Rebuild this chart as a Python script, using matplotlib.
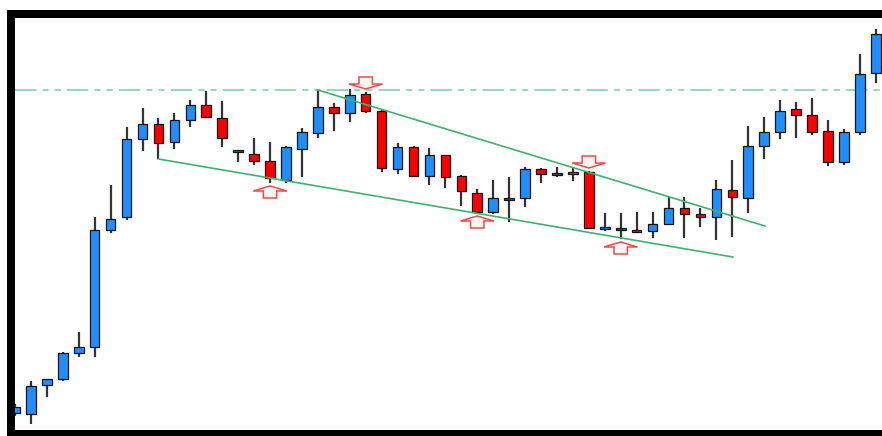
import matplotlib
matplotlib.use("Agg")
import matplotlib.pyplot as plt
from matplotlib.patches import Rectangle, Polygon
import numpy as np

# ---- data (price units) ----
opens = [27, 26, 55, 61, 87, 93, 210, 223, 301, 316, 298, 320, 335, 322, 290, 286, 279, 260, 291, 307,
         333, 327, 346, 329, 271, 293, 264, 285, 264, 247, 228, 242, 242, 271, 266, 266, 268, 211.5, 212,
         209, 209, 216, 232, 226, 223, 250, 242, 294, 308, 331, 325, 309, 278, 308, 367]
closes = [33, 54, 61, 87, 93, 210, 221, 301, 316, 297, 320, 335, 323, 302, 288.5, 279, 262, 293, 308, 333,
          327, 345, 329, 272, 293, 264, 285, 263, 249, 228, 242, 241, 271, 266, 266, 268, 212, 213, 210,
          209, 216, 232, 226, 223, 251, 243, 294, 308, 329, 325, 308, 278, 308, 366, 406]
highs = [36, 59, 61, 88, 108, 223, 255, 313, 332, 322, 327, 340, 349, 339, 290, 302, 298, 294, 312, 350,
         337, 351, 348, 330, 297, 294, 292, 285, 265, 251, 260, 263, 273, 272, 273, 272, 269, 227, 227,
         228, 228, 243, 243, 232, 260, 280, 314, 323, 340, 338, 342, 320, 311, 386, 411]
lows = [24, 16, 43, 59, 83, 83, 207, 220, 289, 281, 291, 313, 323, 293, 278, 275, 257, 257, 263, 302,
        309, 318, 327, 268, 266, 264, 255, 252, 234, 227, 226, 218, 233, 257, 263, 259, 212, 209, 201,
        208, 202, 216, 202, 213, 200, 203, 227, 281, 301, 302, 305, 274, 275, 305, 357]

resistance_level = 350
upper_line_x = [19, 47.05]
upper_line_y = [350, 214]
lower_line_x = [9, 45.04]
lower_line_y = [281, 183]
up_arrow_idx = [16, 29, 38]
down_arrow_idx = [22, 36]

W, H = 882, 436
fig = plt.figure(figsize=(W / 100, H / 100), dpi=100)
fig.patch.set_facecolor("white")
ax = fig.add_axes([15 / W, 6 / H, (W - 15) / W, 412 / H])
ax.set_xlim(0, (W - 15) / 15.94)
ax.set_ylim(10, 422)
ax.axis("off")

x = np.arange(len(opens))
o = np.array(opens, float)
c = np.array(closes, float)
hi = np.array(highs, float)
lo = np.array(lows, float)

colors = []
for oo, cc in zip(o, c):
    if cc > oo:
        colors.append("#1e8fff")
    elif cc < oo:
        colors.append("#ff0000")
    else:
        colors.append("#555555")

# dashed resistance line
ax.axhline(resistance_level, color="#6fd3a0", lw=1.1, dashes=(14, 4, 4, 4, 4, 4), zorder=1)

# wicks
ax.vlines(x, lo, hi, color="#333333", lw=1.6, zorder=2)
# bodies
bottoms = np.minimum(o, c)
heights = np.maximum(np.abs(c - o), 1.5)
ax.bar(x, heights, bottom=bottoms - np.where(np.abs(c - o) < 1.5, 0.75, 0), width=0.6,
       color=colors, edgecolor="#111111", linewidth=0.9, zorder=3)

# trend lines
ax.plot(upper_line_x, upper_line_y, color="#3cb46e", lw=1.2, zorder=4)
ax.plot(lower_line_x, lower_line_y, color="#3cb46e", lw=1.2, zorder=4)


def arrow(xc, ytip, direction):
    hw = 1.05   # head half-width (x units)
    sw = 0.42   # shaft half-width
    hh = 5.0    # head height
    L = 12.0    # total length
    d = -1 if direction == "up" else 1
    pts = [(xc, ytip),
           (xc + hw, ytip + d * hh),
           (xc + sw, ytip + d * hh),
           (xc + sw, ytip + d * L),
           (xc - sw, ytip + d * L),
           (xc - sw, ytip + d * hh),
           (xc - hw, ytip + d * hh)]
    ax.add_patch(Polygon(pts, closed=True, facecolor="#fff6f2", edgecolor="#f04a4a",
                         lw=1.1, zorder=5))


for i in up_arrow_idx:
    arrow(i, lo[i] - 3, "up")
for i in down_arrow_idx:
    arrow(i, hi[i] + 3, "down")

# frame
fig.add_artist(Rectangle((7 / W, 0), 8 / W, 426 / H, transform=fig.transFigure,
                         facecolor="black", edgecolor="none", zorder=10))
fig.add_artist(Rectangle((7 / W, 418 / H), (W - 7) / W, 8 / H, transform=fig.transFigure,
                         facecolor="black", edgecolor="none", zorder=10))
fig.add_artist(Rectangle((7 / W, 0), (W - 7) / W, 6 / H, transform=fig.transFigure,
                         facecolor="black", edgecolor="none", zorder=10))

fig.savefig("out.png", dpi=100)
